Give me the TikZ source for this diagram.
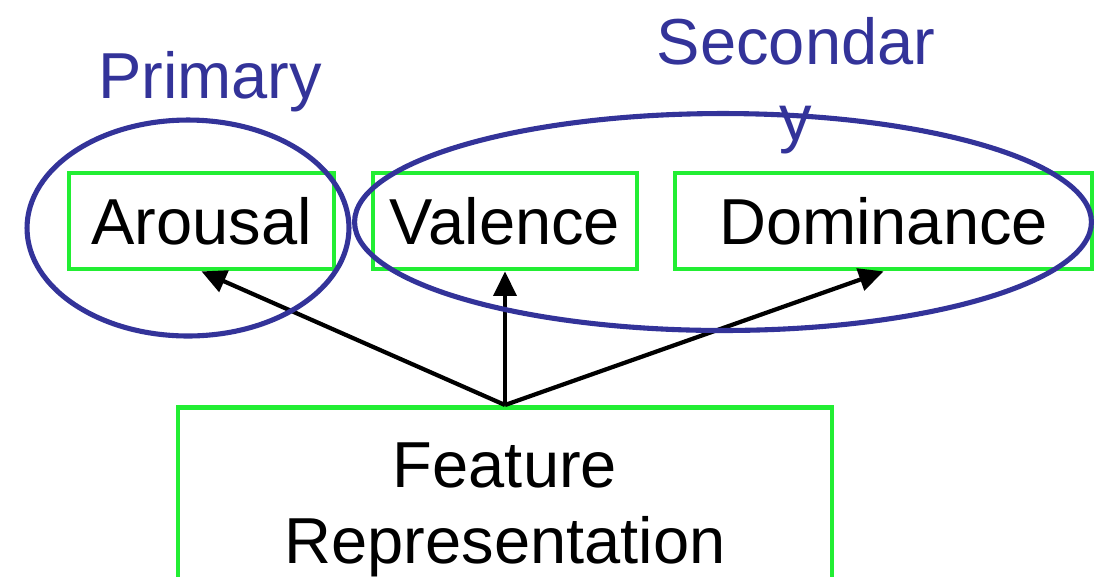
\documentclass[tikz,border=0pt]{standalone}
\usepackage{fontspec}
\setmainfont{Liberation Sans}
\usepackage{tikz}
\usepackage{xcolor}
\usetikzlibrary{arrows.meta,shapes.geometric}
\definecolor{boxgreen}{HTML}{22EE33}
\definecolor{ovalblue}{HTML}{333399}

\begin{document}
\begin{tikzpicture}[
  x=0.02cm, y=-0.02cm,
  vadBox/.style  ={rectangle, draw=boxgreen, line width=2.7pt, minimum height=1.92cm, inner sep=0pt,
                   font=\fontsize{37}{43}\selectfont},
  grpOval/.style ={ellipse, draw=ovalblue, line width=2.9pt, inner sep=0pt},
  grpLabel/.style={text=ovalblue, font=\fontsize{37}{43}\selectfont, inner sep=0pt},
  arr/.style     ={-{Triangle[length=14pt,width=13pt]}, line width=2.4pt, black},
]
% canvas: 1097 x 576 px, y runs downwards
\clip (0,0) rectangle (1097,576);

% emotion dimensions
\node[vadBox, minimum width=5.30cm] (aro) at (201.5,221) {Arousal};
\node[vadBox, minimum width=5.28cm] (val) at (505,221)   {Valence};
\node[vadBox, minimum width=8.34cm] (dom) at (883.5,221) {Dominance};

% shared input, runs off the bottom edge
\node[vadBox, minimum width=13.08cm, minimum height=4.1cm, align=center,
      anchor=north] (feat) at (505,405) {Feature\\Representation};

\draw[arr] (feat.north) -- (aro.south);
\draw[arr] (feat.north) -- (val.south);
\draw[arr] (feat.north) -- (dom.south);

% groupings
\node[grpOval, minimum width=6.44cm, minimum height=4.32cm] (prim) at (188,228) {};
\node[grpOval, minimum width=14.74cm, minimum height=4.34cm] (sec) at (723,222) {};
\node[grpLabel, anchor=base] (primLbl) at (210,98) {Primary};
% base anchor sits on the last line here
\node[grpLabel, anchor=base, align=center] (secLbl) at (796,140) {Secondar\\y};
\end{tikzpicture}
\end{document}
